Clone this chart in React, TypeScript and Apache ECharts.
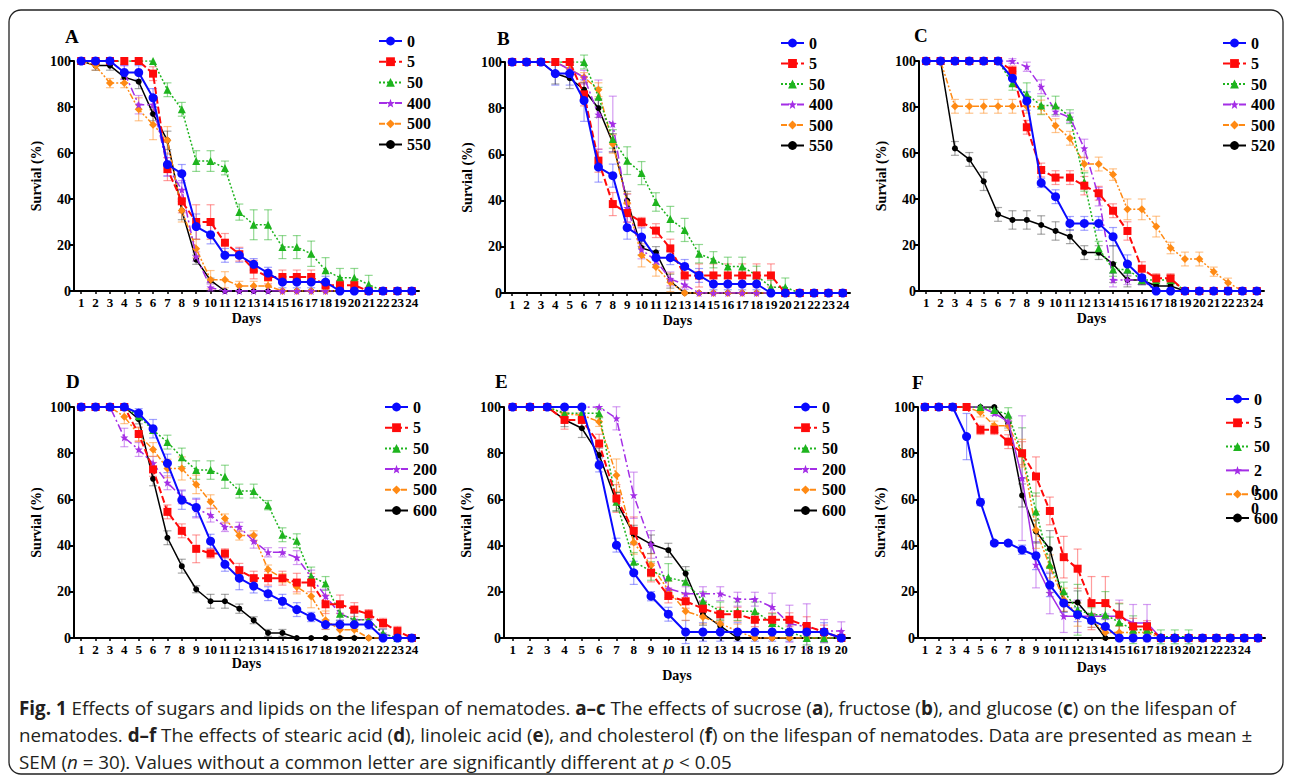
import React, { useEffect, useRef } from "react";
import * as echarts from "echarts";

// ---------- categories ----------
const DAYS_24 = ["1","2","3","4","5","6","7","8","9","10","11","12","13","14","15","16","17","18","19","20","21","22","23","24"];
const DAYS_20 = ["1","2","3","4","5","6","7","8","9","10","11","12","13","14","15","16","17","18","19","20"];
const DAYS_25 = ["1","2","3","4","5","6","7","8","9","10","11","12","13","14","15","16","17","18","19","20","21","22","23","24","25"];

// ---------- Panel A (sucrose) ----------
const A_0 = [100,100,100,95,95,84,55,51,28,24.5,15.5,15.5,11.6,7.8,3.9,3.9,3.9,3.9,0,0,0,0,0,0];
const A_0_SEM = [0,0,0,3,3,4,5,4,5.5,4,3,3,2.5,2.5,2.5,2.5,2.5,2.5,0,0,0,0,0,0];
const A_5 = [100,100,100,100,100,94.5,53,39,30,30,21,16,9.3,6.1,6.1,6.1,6.1,2.5,2.5,2.5,0,0,0,0];
const A_5_SEM = [0,0,0,0,0,3,5,5,7.5,7.5,4,3,4,3,3,3,3,2,2,2,0,0,0,0];
const A_50 = [100,100,100,100,100,100,87.5,79,56.5,56.5,53.5,34.3,28.8,28.8,19.1,19.1,16.2,9,5.8,5.8,2.8,0,0,0];
const A_50_SEM = [0,0,0,0,0,0,3,3,4.5,4.5,3,3.5,6.5,6.5,5,5,5.5,5.5,4,4,4,0,0,0];
const A_400 = [100,100,100,95,81,81,54,44,15,1.5,0,0,0,0,0,0,0,0,0,0,0,0,0,0];
const A_400_SEM = [0,0,0,3,4,4,4,4,2,1.5,0,0,0,0,0,0,0,0,0,0,0,0,0,0];
const A_500 = [100,98,90.4,90.4,79,72.3,65.5,35,18.4,4.9,4.9,2.2,2.2,2.2,0,0,0,0,0,0,0,0,0,0];
const A_500_SEM = [0,2,2,2,5,6.5,6,5,4,4,3.5,2,2,2,0,0,0,0,0,0,0,0,0,0];
const A_550 = [100,98,98,93,91,77,65.5,35,13.6,4.6,0,0,0,0,0,0,0,0,0,0,0,0,0,0];
const A_550_SEM = [0,2,2,2.5,3,3,4,4,2,1,0,0,0,0,0,0,0,0,0,0,0,0,0,0];

// ---------- Panel B (fructose) ----------
const B_0 = [100,100,100,95,95,83.3,54.5,50.8,28.3,24.2,15.3,15.3,11.5,7.6,3.9,3.9,3.9,3.9,0,0,0,0,0,0];
const B_0_SEM = [0,0,0,5,5,9,6.5,5,5,4,3,3,3,3,2.5,2.5,2.5,2.5,0,0,0,0,0,0];
const B_5 = [100,100,100,100,100,86,57.3,38.5,34.6,30.7,27,19.3,7.6,7.6,7.6,7.6,7.6,7.6,7.6,0,0,0,0,0];
const B_5_SEM = [0,0,0,0,0,5,5,5,4,2,3,4,5,5,5,5,5,5,5,0,0,0,0,0];
const B_50 = [100,100,100,100,100,100,85,66.7,57.3,51.9,39.4,32,27.3,17,14.4,11.5,11.5,7.6,2.5,2.5,0,0,0,0];
const B_50_SEM = [0,0,0,0,0,3,4,4,6,5,4,5.5,5,4,3.5,4,4,4,3,4,0,0,0,0];
const B_400 = [100,100,100,100,96.7,93.4,77.2,73.2,36.8,18.8,14,6.1,3.6,0,0,0,0,0,0,0,0,0,0,0];
const B_400_SEM = [0,0,0,0,3,3,15,12,6,4,3,3,2,0,0,0,0,0,0,0,0,0,0,0];
const B_500 = [100,100,100,100,97,93.4,88,64.5,39,16.3,11.3,4.6,0,0,0,0,0,0,0,0,0,0,0,0];
const B_500_SEM = [0,0,0,0,2,2,3,4,4,5,4,4,0,0,0,0,0,0,0,0,0,0,0,0];
const B_550 = [100,100,100,95,93,88,80,65,40,19.5,17.6,5.1,0,0,0,0,0,0,0,0,0,0,0,0];
const B_550_SEM = [0,0,0,4.5,4.5,3,4,4,4,3,2.5,3,0,0,0,0,0,0,0,0,0,0,0,0];

// ---------- Panel C (glucose) ----------
const C_0 = [100,100,100,100,100,100,92.5,82.6,47,41,29.4,29.4,29.4,23.6,11.7,5.8,0,0,0,0,0,0,0,0];
const C_0_SEM = [0,0,0,0,0,0,3,4,2,3,3,3,3,4,4,3,0,0,0,0,0,0,0,0];
const C_5 = [100,100,100,100,100,100,95.8,71.2,52.6,49.3,49.3,45.8,42.5,34.9,26.1,9.7,5.5,5.5,0,0,0,0,0,0];
const C_5_SEM = [0,0,0,0,0,0,2,3,3,3,3,4,3,3,4,3,2,2,0,0,0,0,0,0];
const C_50 = [100,100,100,100,100,100,90.3,85.5,80.7,80.7,75.8,47.4,18.6,9.4,9.4,4.8,4.8,4.8,0,0,0,0,0,0];
const C_50_SEM = [0,0,0,0,0,0,3,5,4,4,3,4,3,3,3,2,2,2,0,0,0,0,0,0];
const C_400 = [100,100,100,100,100,100,100,97.5,88.8,78,75.4,62,41,4.8,4.8,4.8,0,0,0,0,0,0,0,0];
const C_400_SEM = [0,0,0,0,0,0,1,2,3,2,2,4,4,3,2,2,0,0,0,0,0,0,0,0];
const C_500 = [100,100,80.3,80.3,80.3,80.3,80.3,80.3,80,71.9,66.4,55.2,55.2,50.6,35.5,35.5,28,18.7,13.9,13.9,8.4,3.6,0,0];
const C_500_SEM = [0,0,3,3,3,3,3,3,3,3,3,3,3,2.5,4.5,4.5,4.5,2.5,3,3,2,2,0,0];
const C_520 = [100,100,62,57.2,47.7,33.3,30.9,30.9,28.7,26.1,23.6,16.7,16.7,11.7,4.8,4.8,2.2,2.2,0,0,0,0,0,0];
const C_520_SEM = [0,0,3,3,4,3,4,4,4,4,3,3,3,8,3,2,2,2,0,0,0,0,0,0];

// ---------- Panel D (stearic acid) ----------
const D_0 = [100,100,100,100,97.3,90.6,75.6,59.7,56.5,41.9,31.9,25.9,22.5,19.2,15.9,12.3,9.1,5.8,5.8,5.8,5.8,0,0,0];
const D_0_SEM = [0,0,0,0,2,4,4,4,4,3,3,5,3,3,3,3,2,2,2,2,2,0,0,0];
const D_5 = [100,100,100,100,88.3,73,54.6,46.4,38.6,36.6,36.6,29.3,25.9,25.9,25.9,24,24,14.6,14.6,12.3,10.3,6.5,3,0];
const D_5_SEM = [0,0,0,0,3,3,3,3,6,2,2,3,3,3,3,4,4,4,4,3,2,2,2,0];
const D_50 = [100,100,100,100,96,90,84.8,78.2,72.7,72.7,69.8,63.6,63.6,57.5,44.7,42.1,26.7,23.6,10.5,7.9,7.9,1.9,0,0];
const D_50_SEM = [0,0,0,0,0,0,3,4,4,4,5,3,3,2,3,3,4,3,3,3,3,2,0,0];
const D_200 = [100,100,100,86.8,81.6,75.6,67.2,61.1,56,53.2,48.1,48.1,41.9,37.1,37.1,34.8,26.4,18.1,10.5,7.9,7.9,1.9,0,0];
const D_200_SEM = [0,0,0,4,3,3,3,3,4,3,2,2,3,2,2,3,3,3,3,3,2,2,0,0];
const D_500 = [100,100,100,95.8,88,81.6,73.4,73.4,66.5,59,51.7,44.4,44.4,29.6,25.9,22.1,18.1,7.7,3.6,3.6,0,0,0,0];
const D_500_SEM = [0,0,0,3,3,3,4,5,4,3,2,2,2,2,2,3,5,4,3,3,0,0,0,0];
const D_600 = [100,100,100,100,94.7,68.9,43.4,31.1,21.1,15.9,15.9,12.7,7.7,2.2,2.2,0,0,0,0,0,0,0,0,0];
const D_600_SEM = [0,0,0,0,2,3,3,3,1.5,3,3,2,1.5,1.5,1.5,0,0,0,0,0,0,0,0,0];

// ---------- Panel E (linoleic acid) ----------
const E_0 = [100,100,100,100,100,74.9,40.2,28.2,18.1,10.3,2.6,2.6,2.6,2.6,2.6,2.6,2.6,2.6,2.6,0];
const E_0_SEM = [0,0,0,0,0,3,3,5,2,3,5,4,4,4,4,4,4,4,4,0];
const E_5 = [100,100,100,94.4,94.4,84.2,60.4,46.4,28.3,18.2,15.9,12.7,10.3,10.3,7.9,7.9,7.9,5.2,2.6,0];
const E_5_SEM = [0,0,0,4,3,4,6,6,4,3,3,3,3,3,3,3,3,4,3,0];
const E_50 = [100,100,100,97.3,97.3,97.3,59,33,29,26.2,24.3,16,11.6,11.6,11.6,6.5,2.6,0,0,0];
const E_50_SEM = [0,0,0,2,2,2,4,4,4,6,5,4,4,4,4,4,3,3,2,0];
const E_200 = [100,100,100,100,100,100,95.1,61.8,40.5,21.4,19.2,19.2,19.2,16.8,16.8,13.4,6.2,4.8,3,3];
const E_200_SEM = [0,0,0,0,0,0,5,10,6,4,3,3,3,3,3,6,8,10,5,4];
const E_500 = [100,100,100,97,96.5,93.6,70.5,41.3,31.5,20.7,11.6,9.1,6.2,3,0,0,0,0,0,0];
const E_500_SEM = [0,0,0,0,2,2,7,5,5,4,4,3,3,3,0,0,0,0,0,0];
const E_600 = [100,100,100,94.5,90.8,79.2,59,44.8,40.6,38,27.9,10.5,5.2,0,0,0,0,0,0,0];
const E_600_SEM = [0,0,0,3,4,3,4,4,4,3,3,5,3,0,0,0,0,0,0,0];

// ---------- Panel F (cholesterol) ----------
const F_0 = [100,100,100,87.2,58.8,41.1,41.1,38.2,35.6,22.9,15.1,10.1,7.6,5,0,0,0,0,0,0,0,0,0,0,0];
const F_0_SEM = [0,0,0,10,1.5,1,1,2,6,5,4,3,3,3,0,0,0,0,0,0,0,0,0,0,0];
const F_5 = [100,100,100,100,90.1,90.1,85,80,69.9,55,35,30,15.1,15.1,10.1,5,5,0,0,0,0,0,0,0,0];
const F_5_SEM = [0,0,0,0,2,2,3,5,8.5,6,9,8.5,11.5,11.5,5,3.5,2.5,0,0,0,0,0,0,0,0];
const F_50 = [100,100,100,100,100,98.7,96.7,80,54.8,31.7,20.2,12.2,10.1,10.1,6.8,3.6,3.6,0.5,0.5,0.5,0,0,0,0,0];
const F_50_SEM = [0,0,0,0,0,1,3,11,8,12,4,11,3,10,8,6,3,3,3,3,0,0,0,0,0];
const F_200 = [100,100,100,100,100,97.3,93.7,69.2,31.7,19.5,9.4,9.4,9.4,9.4,9.4,6.5,6.5,0,0,0,0,0,0,0,0];
const F_200_SEM = [0,0,0,0,0,1,2,27,10,9,7,7,1,1,7,8,8,0,0,0,0,0,0,0,0];
const F_500 = [100,100,100,100,97.7,91.9,91.9,80,46.8,31,16.6,10.1,7.6,2.4,2.4,2.4,2.4,0,0,0,0,0,0,0,0];
const F_500_SEM = [0,0,0,0,2,2,2,6,8,5,5,5,3,3,3,3,3,0,0,0,0,0,0,0,0];
const F_600 = [100,100,100,100,100,100,92.9,61.7,46.1,38.5,15.4,15.4,8.2,0,0,0,0,0,0,0,0,0,0,0,0];
const F_600_SEM = [0,0,0,0,0,0,2,5,5,8,4,5,2,0,0,0,0,0,0,0,0,0,0,0,0];

// ---------- styles ----------
const SERIF = "Liberation Serif";
const STAR = "path://M12,0 L15,8.5 L24,9 L17,14.5 L19.5,23.5 L12,18.5 L4.5,23.5 L7,14.5 L0,9 L9,8.5 Z";

type Sty = { color: string; err: string; symbol: string; size: number; type: any; width: number };
const S_BLUE: Sty = { color: "#0a0aff", err: "rgba(70,70,255,0.5)", symbol: "circle", size: 9, type: "solid", width: 2 };
const S_RED: Sty = { color: "#ff0a0a", err: "rgba(255,60,60,0.5)", symbol: "rect", size: 8, type: [7, 3], width: 2 };
const S_GREEN: Sty = { color: "#1eb41e", err: "rgba(40,180,40,0.5)", symbol: "triangle", size: 8, type: [2, 2], width: 1.5 };
const S_PURPLE: Sty = { color: "#a42ee6", err: "rgba(170,60,230,0.5)", symbol: STAR, size: 8, type: [8, 3, 2, 3], width: 1.5 };
const S_PURPLE_SOLID: Sty = { ...S_PURPLE, type: "solid" };
const S_ORANGE: Sty = { color: "#ff8a14", err: "rgba(255,140,30,0.5)", symbol: "diamond", size: 8, type: [6, 2, 2, 2, 2, 2], width: 1.5 };
const S_BLACK: Sty = { color: "#000000", err: "rgba(60,60,60,0.45)", symbol: "circle", size: 6, type: "solid", width: 1.5 };

type Panel = {
  key: string;
  cats: string[];
  names: string[];
  data: number[][];
  sem: number[][];
  styles: Sty[];
  grid: { left: number; top: number; width: number; height: number };
  legend: { left: number; top: number; gap: number };
  title: { x: number; y: number };
  daysGap: number;
};

const PANELS: Panel[] = [
  {
    key: "A", cats: DAYS_24, names: ["0", "5", "50", "400", "500", "550"],
    data: [A_0, A_5, A_50, A_400, A_500, A_550], sem: [A_0_SEM, A_5_SEM, A_50_SEM, A_400_SEM, A_500_SEM, A_550_SEM],
    styles: [S_BLUE, S_RED, S_GREEN, S_PURPLE, S_ORANGE, S_BLACK],
    grid: { left: 74, top: 61, width: 345, height: 230 }, legend: { left: 378, top: 33, gap: 4.7 },
    title: { x: 71, y: 37 }, daysGap: 20,
  },
  {
    key: "B", cats: DAYS_24, names: ["0", "5", "50", "400", "500", "550"],
    data: [B_0, B_5, B_50, B_400, B_500, B_550], sem: [B_0_SEM, B_5_SEM, B_50_SEM, B_400_SEM, B_500_SEM, B_550_SEM],
    styles: [S_BLUE, S_RED, S_GREEN, S_PURPLE, S_ORANGE, S_BLACK],
    grid: { left: 505, top: 62, width: 345, height: 231 }, legend: { left: 780, top: 35, gap: 4.5 },
    title: { x: 503, y: 39 }, daysGap: 20,
  },
  {
    key: "C", cats: DAYS_24, names: ["0", "5", "50", "400", "500", "520"],
    data: [C_0, C_5, C_50, C_400, C_500, C_520], sem: [C_0_SEM, C_5_SEM, C_50_SEM, C_400_SEM, C_500_SEM, C_520_SEM],
    styles: [S_BLUE, S_RED, S_GREEN, S_PURPLE, S_ORANGE, S_BLACK],
    grid: { left: 919, top: 61, width: 345, height: 230 }, legend: { left: 1222, top: 35, gap: 4.5 },
    title: { x: 920, y: 36 }, daysGap: 20,
  },
  {
    key: "D", cats: DAYS_24, names: ["0", "5", "50", "200", "500", "600"],
    data: [D_0, D_5, D_50, D_200, D_500, D_600], sem: [D_0_SEM, D_5_SEM, D_50_SEM, D_200_SEM, D_500_SEM, D_600_SEM],
    styles: [S_BLUE, S_RED, S_GREEN, S_PURPLE, S_ORANGE, S_BLACK],
    grid: { left: 74, top: 407, width: 345, height: 231 }, legend: { left: 384, top: 399, gap: 4.7 },
    title: { x: 72, y: 382 }, daysGap: 18,
  },
  {
    key: "E", cats: DAYS_20, names: ["0", "5", "50", "200", "500", "600"],
    data: [E_0, E_5, E_50, E_200, E_500, E_600], sem: [E_0_SEM, E_5_SEM, E_50_SEM, E_200_SEM, E_500_SEM, E_600_SEM],
    styles: [S_BLUE, S_RED, S_GREEN, S_PURPLE, S_ORANGE, S_BLACK],
    grid: { left: 504, top: 407, width: 346, height: 231 }, legend: { left: 793, top: 399, gap: 4.7 },
    title: { x: 501, y: 382 }, daysGap: 30,
  },
  {
    key: "F", cats: DAYS_25, names: ["0", "5", "50", "200", "500", "600"],
    data: [F_0, F_5, F_50, F_200, F_500, F_600], sem: [F_0_SEM, F_5_SEM, F_50_SEM, F_200_SEM, F_500_SEM, F_600_SEM],
    styles: [S_BLUE, S_RED, S_GREEN, S_PURPLE_SOLID, S_ORANGE, S_BLACK],
    grid: { left: 918, top: 407, width: 347, height: 231 }, legend: { left: 1225, top: 391, gap: 7.8 },
    title: { x: 918, y: 383 }, daysGap: 22,
  },
];

const CAPTION =
  "{b|Fig. 1} Effects of sugars and lipids on the lifespan of nematodes. {b|a–c} The effects of sucrose ({b|a}), fructose ({b|b}), and glucose ({b|c}) on the lifespan of\n" +
  "nematodes. {b|d–f} The effects of stearic acid ({b|d}), linoleic acid ({b|e}), and cholesterol ({b|f}) on the lifespan of nematodes. Data are presented as mean ±\n" +
  "SEM ({i|n} = 30). Values without a common letter are significantly different at {i|p} < 0.05";

const CAP_FONT = "Open Sans";
const CAP_SIZE = 18.8;

function buildOption() {
  const grid: any[] = [];
  const xAxis: any[] = [];
  const yAxis: any[] = [];
  const series: any[] = [];
  const legend: any[] = [];
  const graphic: any[] = [];

  const boldText = { fontFamily: SERIF, fontWeight: "bold", color: "#000" };

  PANELS.forEach((p, gi) => {
    grid.push({ ...p.grid, containLabel: false });
    xAxis.push({
      gridIndex: gi,
      type: "category",
      data: p.cats,
      boundaryGap: true,
      axisLine: { show: true, lineStyle: { color: "#000", width: 2 } },
      axisTick: { show: true, alignWithLabel: true, length: 3, lineStyle: { color: "#000", width: 1.5 } },
      axisLabel: {
        ...boldText, fontSize: 13, interval: 0, margin: 5,
        formatter: (v: string) => (v === "25" ? "" : v),
      },
      splitLine: { show: false },
      name: "Days",
      nameLocation: "middle",
      nameGap: p.daysGap,
      nameTextStyle: { ...boldText, fontSize: 14 },
    });
    yAxis.push({
      gridIndex: gi,
      type: "value",
      min: 0,
      max: 100,
      interval: 20,
      axisLine: { show: true, lineStyle: { color: "#000", width: 2 } },
      axisTick: { show: true, length: 4, lineStyle: { color: "#000", width: 2 } },
      axisLabel: { ...boldText, fontSize: 14, margin: 3 },
      splitLine: { show: false },
      name: "Survial (%)",
      nameLocation: "middle",
      nameGap: 31,
      nameTextStyle: { ...boldText, fontSize: 14 },
    });

    p.names.forEach((n, si) => {
      const st = p.styles[si];
      const sname = p.key + ":" + n;
      series.push({
        type: "custom",
        name: sname + " err",
        xAxisIndex: gi,
        yAxisIndex: gi,
        z: 2,
        silent: true,
        encode: { x: 0, y: 1 },
        data: p.data[si].map((v, i) => [i, v, p.sem[si][i]]),
        renderItem: (params: any, api: any) => {
          const x = api.value(0);
          const m = api.value(1);
          const e = api.value(2);
          if (!e) return null;
          const t = api.coord([x, m + e]);
          const b = api.coord([x, m - e]);
          const hw = 4;
          const s = { stroke: st.err, lineWidth: 1.2 };
          return {
            type: "group",
            children: [
              { type: "line", shape: { x1: t[0], y1: t[1], x2: b[0], y2: b[1] }, style: s },
              { type: "line", shape: { x1: t[0] - hw, y1: t[1], x2: t[0] + hw, y2: t[1] }, style: s },
              { type: "line", shape: { x1: b[0] - hw, y1: b[1], x2: b[0] + hw, y2: b[1] }, style: s },
            ],
          };
        },
      });
      series.push({
        type: "line",
        name: sname,
        xAxisIndex: gi,
        yAxisIndex: gi,
        data: p.data[si],
        z: 10 - si,
        symbol: st.symbol,
        symbolSize: st.size,
        showAllSymbol: true,
        lineStyle: { color: st.color, width: st.width, type: st.type },
        itemStyle: { color: st.color, borderWidth: 0 },
        emphasis: { disabled: true },
      });
    });

    legend.push({
      left: p.legend.left,
      top: p.legend.top,
      padding: 0,
      orient: "vertical",
      itemWidth: 23,
      itemHeight: 11,
      itemGap: p.legend.gap,
      selectedMode: false,
      data: p.names.map((n) => p.key + ":" + n),
      formatter: (name: string) => {
        const s = name.split(":")[1];
        return p.key === "F" && s === "200" ? "2" : s;
      },
      textStyle: { ...boldText, fontSize: 16 },
    });

    graphic.push({
      type: "text",
      left: p.title.x - 6,
      top: p.title.y - 10,
      style: { text: p.key, font: "bold 19px " + SERIF, fill: "#000" },
    });
  });

  // wrapped legend label overflow in panel F ("2" / "0" / "0")
  graphic.push({ type: "text", left: 1251, top: 482, style: { text: "0", font: "bold 16px " + SERIF, fill: "#000" } });
  graphic.push({ type: "text", left: 1251, top: 500, style: { text: "0", font: "bold 16px " + SERIF, fill: "#000" } });

  // outer rounded frame
  graphic.push({
    type: "rect",
    shape: { x: 9, y: 10, width: 1274, height: 764, r: 12 },
    style: { fill: "none", stroke: "#222", lineWidth: 1.3 },
    silent: true,
    z: -1,
  });

  // caption
  graphic.push({
    type: "text",
    left: 19,
    top: 694,
    style: {
      text: CAPTION,
      fontFamily: CAP_FONT,
      fontSize: CAP_SIZE,
      fill: "#231f20",
      lineHeight: 27,
      rich: {
        b: { fontFamily: CAP_FONT, fontSize: CAP_SIZE, fontWeight: "bold", fill: "#231f20", lineHeight: 27 },
        i: { fontFamily: CAP_FONT, fontSize: CAP_SIZE, fontStyle: "italic", fill: "#231f20", lineHeight: 27 },
      },
    },
  });

  return {
    animation: false,
    backgroundColor: "#ffffff",
    grid,
    xAxis,
    yAxis,
    legend,
    series,
    graphic,
  };
}

export default function App() {
  const ref = useRef<HTMLDivElement>(null);
  useEffect(() => {
    if (!ref.current) return;
    const chart = echarts.init(ref.current, null, { renderer: "svg" });
    chart.setOption(buildOption() as any);
    return () => chart.dispose();
  }, []);
  return (
    <div
      ref={ref}
      style={{ position: "fixed", left: 0, top: 0, width: 1290, height: 780, background: "#fff" }}
    />
  );
}
